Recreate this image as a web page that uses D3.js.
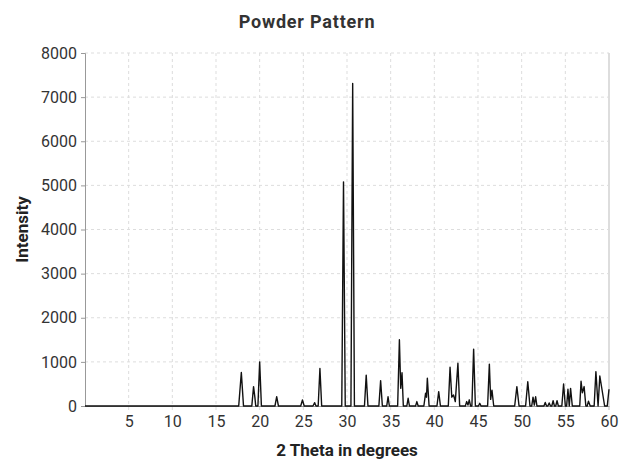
<!DOCTYPE html>
<html><head><meta charset="utf-8">
<script src="https://cdn.jsdelivr.net/npm/d3@7"></script>
<style>
body{margin:0;background:#fff;}
svg{display:block;font-family:Roboto,"Liberation Sans",sans-serif;}
</style></head>
<body>
<svg id="c" width="632" height="459"></svg>
<script>
// Line vertices (2θ in degrees, intensity)
const twoTheta = [0,17.6,17.9,18.15,19.1,19.3,19.45,19.55,19.8,20.0,20.2,21.75,21.95,22.15,24.7,24.9,25.1,26.1,26.3,26.45,26.7,26.9,27.1,29.4,29.6,29.8,30.45,30.65,30.85,32.0,32.2,32.4,33.65,33.85,34.05,34.55,34.7,34.85,35.8,36.0,36.15,36.3,36.45,36.85,37.0,37.15,37.85,38.0,38.15,38.8,39.0,39.1,39.2,39.4,40.3,40.5,40.7,41.6,41.8,42.0,42.2,42.4,42.7,42.9,43.55,43.7,43.85,44.0,44.15,44.3,44.5,44.7,45.05,45.2,45.35,46.1,46.3,46.45,46.6,46.8,49.2,49.45,49.7,50.45,50.7,50.95,51.15,51.3,51.45,51.6,51.75,51.9,52.55,52.7,52.85,53.0,53.15,53.3,53.45,53.6,53.75,53.9,54.05,54.2,54.6,54.8,55.0,55.15,55.3,55.45,55.6,55.8,56.4,56.65,56.8,56.95,57.15,57.35,57.5,57.65,57.85,58.05,58.3,58.5,58.75,58.95,59.5,59.8,60.0];
const intensity = [0,0,760,0,0,440,200,0,0,1000,0,0,210,0,0,135,0,0,75,0,0,850,0,0,5080,0,0,7310,0,0,700,0,0,575,0,0,210,0,0,1500,400,755,0,0,175,0,0,100,0,0,290,200,630,0,0,325,0,0,880,200,250,100,970,0,0,100,20,140,0,0,1290,0,0,60,0,0,950,150,360,0,0,440,0,0,550,0,0,200,20,210,0,0,0,80,0,0,70,0,0,120,0,0,120,0,0,500,0,0,380,0,400,0,0,0,560,300,440,0,0,110,0,0,0,780,0,680,0,0,380,0];
const xTicks = [5,10,15,20,25,30,35,40,45,50,55,60];
const yTicks = [0,1000,2000,3000,4000,5000,6000,7000,8000];
const titleText = "Powder Pattern";
const xLabel = "2 Theta in degrees";
const yLabel = "Intensity";

const svg = d3.select("#c");
const m = {left:85, right:609, top:53, bottom:406};
const x = d3.scaleLinear().domain([0,60]).range([m.left,m.right]);
const y = d3.scaleLinear().domain([0,8000]).range([m.bottom,m.top]);

// grid
const g = svg.append("g");
g.selectAll("line.gx").data(xTicks).join("line")
  .attr("x1",d=>x(d)).attr("x2",d=>x(d)).attr("y1",m.top).attr("y2",m.bottom+4)
  .attr("stroke",d=>d===60?"#bbb":"#ddd").attr("stroke-dasharray",d=>d===60?null:"3,3").attr("stroke-width",1);
g.selectAll("line.gy").data(yTicks.filter(d=>d>0)).join("line")
  .attr("x1",m.left).attr("x2",m.right).attr("y1",d=>y(d)).attr("y2",d=>y(d))
  .attr("stroke","#ddd").attr("stroke-dasharray","3,3").attr("stroke-width",1);

// axes
const xa = svg.append("g").attr("transform",`translate(0,${m.bottom})`)
  .call(d3.axisBottom(x).tickValues(xTicks).tickSize(0).tickPadding(10));
xa.select(".domain").attr("stroke","#999");
xa.selectAll("text").attr("font-size",16).attr("fill","#333").attr("font-family","Roboto");

const ya = svg.append("g").attr("transform",`translate(${m.left},0)`)
  .call(d3.axisLeft(y).tickValues(yTicks).tickFormat(d3.format("d")).tickSize(4).tickPadding(4));
ya.select(".domain").attr("stroke","#999");
ya.selectAll(".tick line").attr("stroke","#999");
ya.selectAll("text").attr("font-size",16).attr("fill","#333").attr("font-family","Roboto");

// line
const pts = twoTheta.map((t,i)=>[t,intensity[i]]);
svg.append("path").datum(pts)
  .attr("fill","none").attr("stroke","#111").attr("stroke-width",1.4).attr("stroke-linejoin","round")
  .attr("d",d3.line().x(d=>x(d[0])).y(d=>y(d[1])));

// labels
svg.append("text").attr("x",307).attr("y",28).attr("text-anchor","middle")
  .attr("font-size",18).attr("font-weight","bold").attr("letter-spacing",0.8).attr("fill","#333").text(titleText);
svg.append("text").attr("x",(m.left+m.right)/2).attr("y",456).attr("text-anchor","middle")
  .attr("font-size",17).attr("font-weight","bold").attr("fill","#222").text(xLabel);
svg.append("text").attr("transform",`translate(28,${(m.top+m.bottom)/2}) rotate(-90)`).attr("text-anchor","middle")
  .attr("font-size",17).attr("font-weight","bold").attr("fill","#222").text(yLabel);
</script>
</body></html>
